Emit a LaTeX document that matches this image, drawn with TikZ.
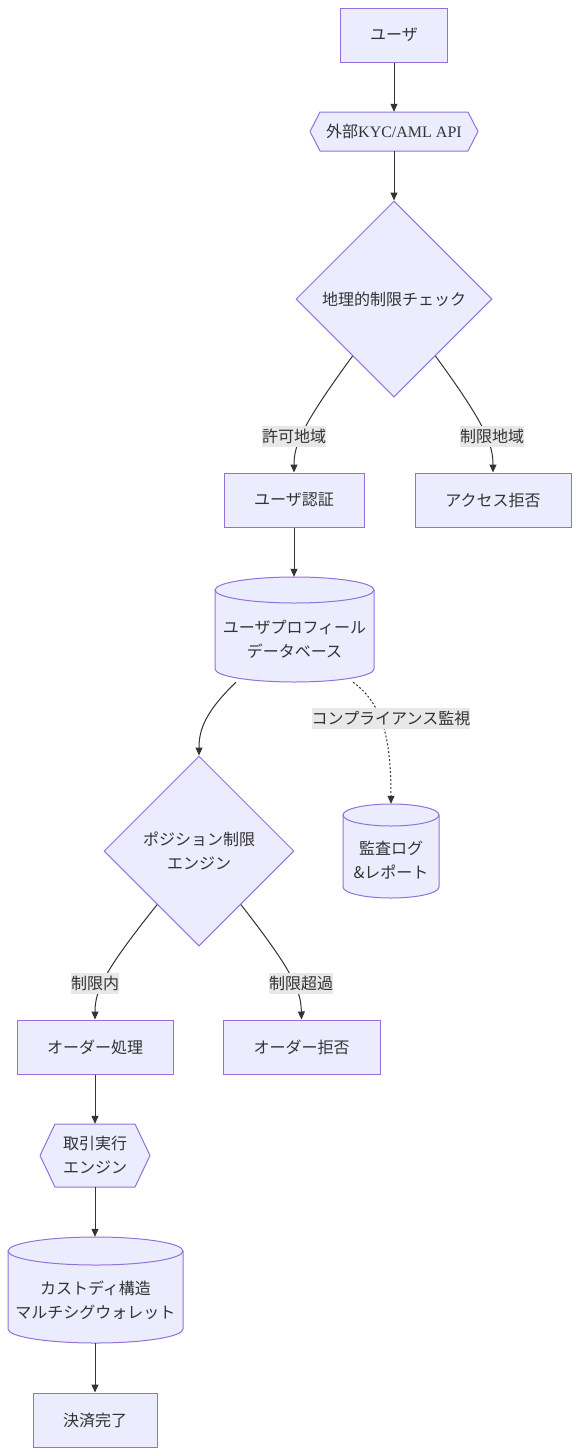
\documentclass[tikz,border=0pt]{standalone}
\usepackage{fontspec}
\setmainfont{Noto Sans CJK JP}
\newfontfamily\latserif{Liberation Serif}
\usetikzlibrary{shapes.geometric,arrows.meta}
\definecolor{nodefill}{HTML}{ECECFF}
\definecolor{nodeline}{HTML}{9370DB}
\definecolor{edgecol}{HTML}{333333}
\definecolor{lblbg}{HTML}{E8E8E8}
\definecolor{txt}{HTML}{333333}
\begin{document}
\begin{tikzpicture}[x=1pt,y=1pt,
  every node/.style={font=\fontsize{16pt}{24pt}\selectfont, text=txt},
  rbox/.style={draw=nodeline, fill=nodefill, line width=1pt, rectangle, inner sep=0pt, align=center},
  shapefill/.style={draw=nodeline, fill=nodefill, line width=1pt, line join=round},
  shapeline/.style={draw=nodeline, line width=1pt},
  dia/.style={draw=nodeline, fill=nodefill, line width=1pt, diamond, aspect=1, inner sep=0pt, align=center, minimum width=196pt, minimum height=196pt},
  holder/.style={rectangle, inner sep=0pt, align=center},
  conn/.style={draw=edgecol, line width=1pt, -{Triangle[length=8pt,width=7pt]}},
  dconn/.style={conn, dash pattern=on 2pt off 2pt},
  lbl/.style={fill=lblbg, inner xsep=0pt, inner ysep=0pt, minimum height=21pt}]
\useasboundingbox (0,0) rectangle (579,-1456);

% ---- background shapes (hexagons and cylinders)
\path[shapefill] (310,-131.5) -- (320,-112) -- (468,-112) -- (478,-131.5) -- (468,-151) -- (320,-151) -- cycle;
\path[shapefill] (40,-1155.5) -- (55,-1124) -- (135,-1124) -- (150,-1155.5) -- (135,-1187) -- (55,-1187) -- cycle;

% DB cylinder
\path[shapefill] (215,-590) -- (215,-669) arc[start angle=180,end angle=360,x radius=79.5pt,y radius=13pt] -- (374,-590) arc[start angle=0,end angle=180,x radius=79.5pt,y radius=13pt] -- cycle;
\draw[shapeline] (215,-590) arc[start angle=180,end angle=360,x radius=79.5pt,y radius=13pt];
% audit cylinder
\path[shapefill] (343,-815) -- (343,-887) arc[start angle=180,end angle=360,x radius=48pt,y radius=11pt] -- (439,-815) arc[start angle=0,end angle=180,x radius=48pt,y radius=11pt] -- cycle;
\draw[shapeline] (343,-815) arc[start angle=180,end angle=360,x radius=48pt,y radius=11pt];
% custody cylinder
\path[shapefill] (8,-1251) -- (8,-1329) arc[start angle=180,end angle=360,x radius=87.5pt,y radius=14pt] -- (183,-1251) arc[start angle=0,end angle=180,x radius=87.5pt,y radius=14pt] -- cycle;
\draw[shapeline] (8,-1251) arc[start angle=180,end angle=360,x radius=87.5pt,y radius=14pt];

% ---- nodes
\node[rbox, minimum width=107pt, minimum height=54pt] (user) at (394,-35) {ユーザ};
\node[holder, minimum width=168pt, minimum height=39pt] (kyc) at (394,-131.5) {外部{\latserif KYC/AML API}};
\node[dia] (geo) at (394,-299) {地理的制限チェック};
\node[rbox, minimum width=140pt, minimum height=54pt] (auth) at (294,-500) {ユーザ認証};
\node[rbox, minimum width=156pt, minimum height=54pt] (deny) at (493,-500) {アクセス拒否};
\node[holder, minimum width=159pt, minimum height=105pt] (db) at (294.5,-629.5) {};
\node[holder] (dbtext) at (294.5,-639) {ユーザプロフィール\\データベース};
\node[holder, minimum width=96pt, minimum height=94pt] (audit) at (391,-851) {};
\node[holder] (audittext) at (391,-860) {監査ログ\\\&レポート};
\node[dia, minimum width=190pt, minimum height=190pt] (pos) at (199,-851) {ポジション制限\\エンジン};
\node[rbox, minimum width=156pt, minimum height=54pt] (order) at (95,-1047) {オーダー処理};
\node[rbox, minimum width=157pt, minimum height=54pt] (reject) at (301.5,-1047) {オーダー拒否};
\node[holder, minimum width=110pt, minimum height=63pt] (trade) at (95,-1155.5) {取引実行\\エンジン};
\node[holder, minimum width=175pt, minimum height=106pt] (cust) at (95.5,-1290) {};
\node[holder] (custtext) at (95.5,-1300) {カストディ構造\\マルチシグウォレット};
\node[rbox, minimum width=124pt, minimum height=54pt] (settle) at (95,-1420) {決済完了};

% ---- connectors
\draw[conn] (user.south) -- (kyc.north);
\draw[conn] (kyc.south) -- (geo.north);
\draw[conn] (geo.234) .. controls (302,-425) and (294,-445) .. (auth.north);
\draw[conn] (geo.306) .. controls (486,-425) and (493,-445) .. (deny.north);
\draw[conn] (auth.south) -- (auth.south |- db.north);
\draw[conn] (db.222) .. controls (205,-712) and (199,-730) .. (pos.north);
\draw[dconn] (db.318) .. controls (385,-705) and (391,-745) .. (audit.north);
\draw[conn] (pos.232) .. controls (105,-970) and (95,-990) .. (order.north);
\draw[conn] (pos.308) .. controls (292,-970) and (301,-990) .. (reject.north);
\draw[conn] (order.south) -- (trade.north);
\draw[conn] (trade.south) -- (trade.south |- cust.north);
\draw[conn] (cust.south -| settle.north) -- (settle.north);

% ---- connector labels
\node[lbl] (l1) at (294,-436) {許可地域};
\node[lbl] (l2) at (492,-436) {制限地域};
\node[lbl] (l3) at (391,-718) {コンプライアンス監視};
\node[lbl] (l4) at (95,-983) {制限内};
\node[lbl] (l5) at (301,-983) {制限超過};
\end{tikzpicture}
\end{document}
